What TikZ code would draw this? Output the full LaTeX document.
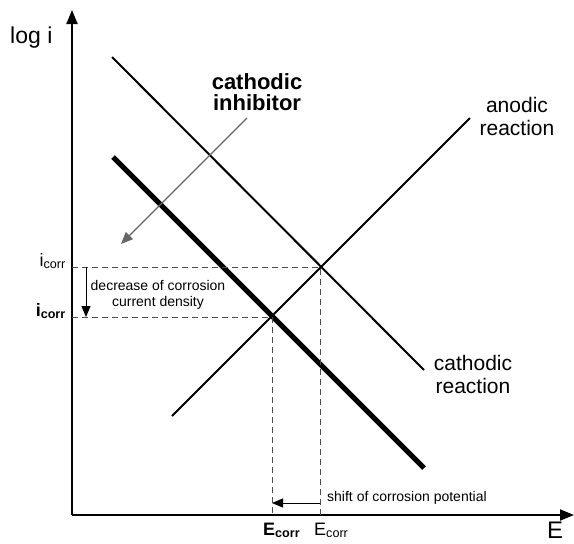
\documentclass[tikz,border=0pt]{standalone}
\usepackage{fontspec}
\setmainfont{Liberation Sans}
\usetikzlibrary{arrows.meta}

\tikzset{
  axis/.style={line width=2pt, -{Triangle[length=14pt,width=11pt]}},
  reaction/.style={line width=2pt},
  guide/.style={dash pattern=on 6pt off 4pt, line width=1pt, black!70},
  thinarrow/.style={line width=1pt, -{Triangle[length=11pt,width=9pt]}},
  big/.style={font=\fontsize{21}{23}\selectfont, align=center, inner sep=0pt},
  small/.style={font=\fontsize{14}{16}\selectfont, align=center, inner sep=0pt},
  corr/.style={font=\fontsize{18}{20}\selectfont, inner sep=0pt},
}

\begin{document}
\begin{tikzpicture}[x=1pt,y=-1pt]
\useasboundingbox (0,0) rectangle (574,544);

% axes
\coordinate (O) at (72,515);
\coordinate (ytop) at (72,10);
\coordinate (xend) at (574,515);
\draw[axis] (O) -- (ytop);
\draw[axis] (O) -- (xend);
\node[inner sep=0pt, anchor=base west, font=\fontsize{23}{25}\selectfont] (logi) at (10,43) {log i};
\node[inner sep=0pt, anchor=base west, font=\fontsize{24}{26}\selectfont] (Elbl) at (547,538) {E};

% polarisation lines
\coordinate (c1) at (112,57);
\coordinate (c2) at (424,370);
\coordinate (a1) at (172,416);
\coordinate (a2) at (470,118);
\coordinate (k1) at (113,157);
\coordinate (k2) at (424,468);
\draw[reaction] (c1) -- (c2);
\draw[reaction] (a1) -- (a2);
\draw[line width=5pt] (k1) -- (k2);

\coordinate (P1) at (320,267);   % without inhibitor
\coordinate (P2) at (272,317);   % with inhibitor

\node[big] (anod) at (517,116) {anodic\\reaction};
\node[big] (cath) at (473,374) {cathodic\\reaction};
\node[big, font=\fontsize{22}{21}\selectfont\bfseries] (inhib) at (257,92) {cathodic\\inhibitor};

\coordinate (inA) at (247,118);
\coordinate (inB) at (121,244);
\draw[line width=1.2pt, black!60, -{Triangle[length=12pt,width=10pt]}] (inA) -- (inB);

% guides
\draw[guide] (72,267) -- (P1) -- (320,515);
\draw[guide] (72,317) -- (P2) -- (272,515);

\node[corr, anchor=base east] (i1) at (66,266) {i\textsubscript{corr}};
\node[corr, anchor=base east, font=\fontsize{18}{20}\selectfont\bfseries] (i2) at (66,316) {i\textsubscript{corr}};
\node[corr, anchor=base west] (E1) at (314,535) {E\textsubscript{corr}};
\node[corr, anchor=base west, font=\fontsize{18}{20}\selectfont\bfseries] (E2) at (263,535) {E\textsubscript{corr}};

% decrease of current
\coordinate (d1) at (86,267);
\coordinate (d2) at (86,317);
\draw[thinarrow] (d1) -- (d2);
\node[small] (dec) at (158,295) {decrease of corrosion\\current density};

% shift of potential
\coordinate (s1) at (320,503);
\coordinate (s2) at (272,503);
\draw[thinarrow] (s1) -- (s2);
\node[small, anchor=west] (sh) at (327,498) {shift of corrosion potential};

\end{tikzpicture}
\end{document}
